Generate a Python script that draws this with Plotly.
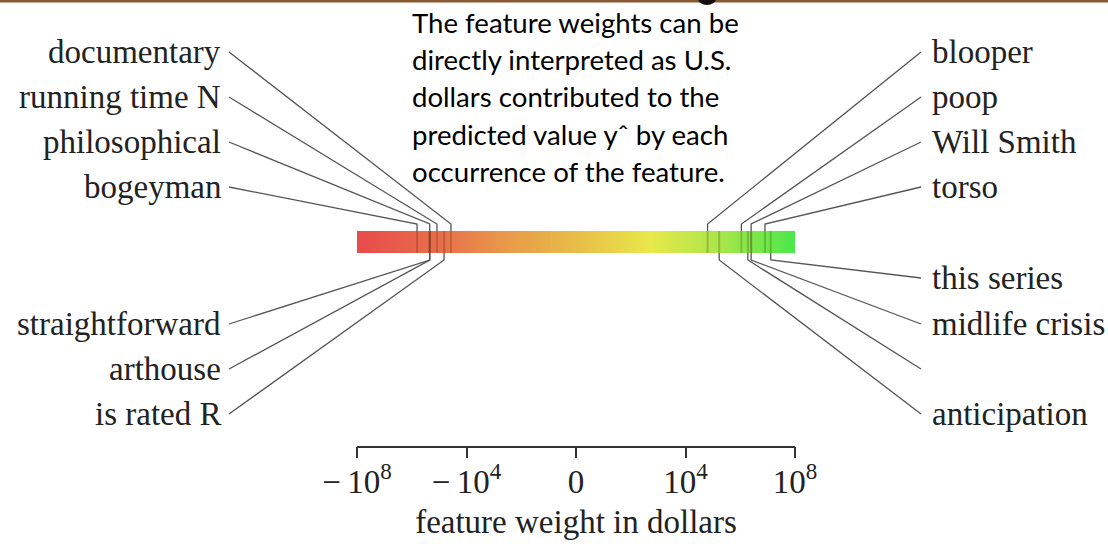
import numpy as np
import plotly.graph_objects as go

# ---- feature weights (US dollars per occurrence) ----
upper_left_names = ["documentary", "running time N", "philosophical", "bogeyman"]
upper_left_weights = [-3.7e4, -1.2e5, -2.2e5, -6.4e5]

lower_left_names = ["straightforward", "arthouse", "is rated R"]
lower_left_weights = [-2.2e5, -2.2e5, -6.6e4]

upper_right_names = ["blooper", "poop", "Will Smith", "torso"]
upper_right_weights = [6.4e4, 1.1e6, 2.5e6, 8.0e6]

lower_right_names = ["this series", "midlife crisis", "", "anticipation"]
lower_right_weights = [1.3e7, 2.5e6, 1.9e6, 1.7e5]

axis_tick_values = [-1e8, -1e4, 0, 1e4, 1e8]
axis_tick_text = ["−\u200910<sup>8</sup>", "−\u200910<sup>4</sup>", "0",
                  "10<sup>4</sup>", "10<sup>8</sup>"]

note_lines = [
    "The feature weights can be",
    "directly interpreted as U.S.",
    "dollars contributed to the",
    "predicted value y\u02c6 by each",
    "occurrence of the feature.",
]


def symlog(w):
    w = np.asarray(w, dtype=float)
    return np.sign(w) * np.log10(1.0 + np.abs(w))


# ---- page geometry (pixels) ----
W, H = 1108, 544
BAR_LEFT, BAR_RIGHT = 357, 795
BAR_TOP, BAR_BOTTOM = 231, 253
AXIS_Y = 446.5
U_MAX = 8.0
SCALE = (BAR_RIGHT - BAR_LEFT) / (2 * U_MAX)
X_LO = -U_MAX - BAR_LEFT / SCALE
X_HI = U_MAX + (W - BAR_RIGHT) / SCALE


def px_to_u(px):
    return X_LO + px / SCALE


UPPER_SLOTS = [52, 97, 142, 187]
LOWER_SLOTS = [278, 324, 369, 414]
UPPER_BEND, LOWER_BEND = 224, 260
LEFT_LINE_END, LEFT_TEXT_END = 229, 223
RIGHT_LINE_END, RIGHT_TEXT_START = 921, 930

SERIF = "Liberation Serif"
TEXT_COLOR = "#222222"
LINE_COLOR = "#555555"

fig = go.Figure()

# ---- gradient bar ----
n_cells = 400
edges = np.linspace(-U_MAX, U_MAX, n_cells + 1)
centres = 0.5 * (edges[:-1] + edges[1:])
fig.add_trace(go.Heatmap(
    x=edges, y=[BAR_TOP, BAR_BOTTOM], z=[centres],
    xaxis="x2", yaxis="y",
    colorscale=[[0.0, "#e84b4b"], [0.2, "#e8714b"], [0.32, "#e8954a"],
                [0.5, "#e8bd48"], [0.67, "#e8e84a"], [0.83, "#a8e64a"],
                [1.0, "#4ae84a"]],
    zmin=-U_MAX, zmax=U_MAX, showscale=False, hoverinfo="skip",
))

# ---- leader lines and feature marks ----
groups = [
    (upper_left_names, upper_left_weights, UPPER_SLOTS, "left", "upper"),
    (lower_left_names, lower_left_weights, LOWER_SLOTS[1:], "left", "lower"),
    (upper_right_names, upper_right_weights, UPPER_SLOTS, "right", "upper"),
    (lower_right_names, lower_right_weights, LOWER_SLOTS, "right", "lower"),
]

lead_x, lead_y = [], []
mark_x, mark_y = [], []
annotations = []
for names, weights, slots, side, half in groups:
    us = symlog(weights)
    for name, u, slot in zip(names, us, slots):
        end_px = LEFT_LINE_END if side == "left" else RIGHT_LINE_END
        bend = UPPER_BEND if half == "upper" else LOWER_BEND
        edge = BAR_TOP if half == "upper" else BAR_BOTTOM
        lead_x += [px_to_u(end_px), u, u, None]
        lead_y += [slot, bend, edge, None]
        mark_x += [u, u, None]
        mark_y += [BAR_TOP, BAR_BOTTOM, None]
        if name:
            annotations.append(dict(
                x=px_to_u(LEFT_TEXT_END if side == "left" else RIGHT_TEXT_START),
                y=slot, xref="x", yref="y", text=name, showarrow=False,
                xanchor="right" if side == "left" else "left", yanchor="middle",
                font=dict(family=SERIF, size=33, color=TEXT_COLOR),
            ))

fig.add_trace(go.Scatter(
    x=mark_x, y=mark_y, xaxis="x2", yaxis="y", mode="lines",
    line=dict(color="rgba(50,30,0,0.22)", width=2), hoverinfo="skip",
    showlegend=False,
))
fig.add_trace(go.Scatter(
    x=lead_x, y=lead_y, xaxis="x", yaxis="y", mode="lines",
    line=dict(color=LINE_COLOR, width=1.3), hoverinfo="skip",
    showlegend=False,
))

# ---- explanatory note ----
for i, line in enumerate(note_lines):
    annotations.append(dict(
        x=px_to_u(410), y=22 + i * 37.4, xref="x", yref="y", text=line,
        showarrow=False, xanchor="left", yanchor="middle",
        font=dict(family="Lato", size=27.6, color="#000000"),
    ))

fig.update_layout(
    width=W, height=H,
    margin=dict(l=0, r=0, t=0, b=0, autoexpand=False),
    paper_bgcolor="white", plot_bgcolor="rgba(0,0,0,0)",
    showlegend=False,
    xaxis=dict(range=[X_LO, X_HI], visible=False, domain=[0, 1],
               automargin=False),
    yaxis=dict(range=[H, 0], visible=False, domain=[0, 1], automargin=False),
    xaxis2=dict(
        domain=[BAR_LEFT / W, BAR_RIGHT / W], range=[-U_MAX, U_MAX],
        anchor="free", position=1 - AXIS_Y / H, automargin=False,
        showline=True, linecolor="#333333", linewidth=1.5,
        ticks="outside", ticklen=11, tickwidth=1.5, tickcolor="#333333",
        ticklabelstandoff=-5,
        tickvals=symlog(axis_tick_values).tolist(), ticktext=axis_tick_text,
        tickfont=dict(family=SERIF, size=33, color=TEXT_COLOR),
        showgrid=False, zeroline=False, fixedrange=True,
        title=dict(text="feature weight in dollars", standoff=10,
                   font=dict(family=SERIF, size=33, color=TEXT_COLOR)),
    ),
    annotations=annotations,
    shapes=[
        dict(type="rect", xref="paper", yref="y", x0=0, x1=1, y0=0, y1=2.5,
             line=dict(width=0), fillcolor="#8a5a32"),
        dict(type="circle", xref="x", yref="y",
             x0=px_to_u(698), x1=px_to_u(716), y0=-8, y1=5,
             line=dict(width=0), fillcolor="#111111"),
    ],
)

fig.write_html("out.html")
